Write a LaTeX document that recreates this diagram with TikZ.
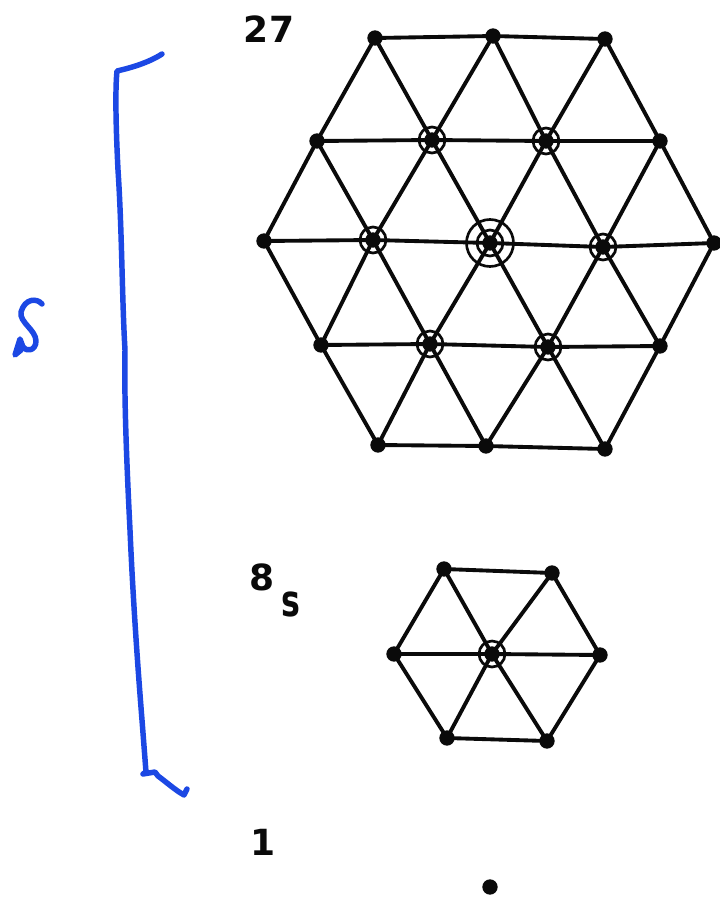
\documentclass[tikz,border=0pt]{standalone}
\usepackage{fontspec}
\usepackage{graphicx}
\setmainfont{DejaVu Sans}
\definecolor{penblue}{RGB}{28,72,228}
\definecolor{inkblack}{RGB}{10,10,10}
\tikzset{
  x=0.75pt,y=-0.75pt,
  dotnode/.style={circle,fill=inkblack,inner sep=0pt,minimum size=11.5pt},
  edge/.style={draw=inkblack,line width=2.9pt},
  ring/.style={draw=inkblack,line width=2pt,fill=none},
  pen/.style={draw=penblue,line width=4.1pt,line cap=round,line join=round},
  lab/.style={inner sep=0pt,text=inkblack,font=\fontsize{27}{27}\selectfont\bfseries}
}
\begin{document}
\begin{tikzpicture}
\useasboundingbox[fill=white] (0,0) rectangle (720,900);
% large multiplet
\foreach \n/\x/\y in {a1/375/38,a2/493/36,a3/605/39,
  b1/317/141,b2/432/140,b3/546/141,b4/660/141,
  c1/264/241,c2/373/240,c3/490/243,c4/603/247,c5/714/243,
  d1/321/345,d2/430/344,d3/548/347,d4/660/346,
  e1/378/445,e2/486/446,e3/605/449,
  f1/444/569,f2/552/573,g1/394/654,g2/492/654,g3/600/655,h1/447/738,h2/547/741,
  z/490/887}
  \node[dotnode] (\n) at (\x,\y) {};
\foreach \p/\q in {a1/a2,a2/a3,b1/b2,b2/b3,b3/b4,c1/c2,c2/c3,c3/c4,c4/c5,d1/d2,d2/d3,d3/d4,e1/e2,e2/e3,
  a1/b1,a1/b2,a2/b2,a2/b3,a3/b3,a3/b4,
  b1/c1,b1/c2,b2/c2,b2/c3,b3/c3,b3/c4,b4/c4,b4/c5,
  c1/d1,c2/d1,c2/d2,c3/d2,c3/d3,c4/d3,c4/d4,c5/d4,
  d1/e1,d2/e1,d2/e2,d3/e2,d3/e3,d4/e3,
  f1/f2,g1/g2,g2/g3,h1/h2,f1/g1,f1/g2,f2/g2,f2/g3,g1/h1,g2/h1,g2/h2,g3/h2}
  \path[edge] (\p.center) -- (\q.center);
% rings
\foreach \n in {b2,b3,c2,c4,d2,d3,g2}
  \draw[ring] (\n.center) circle[radius=13];
\draw[ring] (c3.center) circle[radius=13];
\draw[ring] (c3.center) circle[radius=23.5];
% labels
\node[lab] (t27) at (269,29) {27};
\node[lab] (t8) at (262,577) {8};
\node[lab] (ts) at (291,604) {\scalebox{0.72}[1]{\fontsize{33}{33}\selectfont s}};
\node[lab] (t1) at (263,842) {1};
% hand-drawn bracket
\draw[pen] (162,54) .. controls (148,63) and (130,68) .. (117,71)
  .. controls (115,90) and (116,130) .. (118,170)
  .. controls (122,230) and (122,300) .. (125,350)
  .. controls (124,400) and (127,470) .. (130,530)
  .. controls (133,600) and (138,670) .. (142,720)
  -- (146,772) -- (143,774) -- (155,772)
  -- (158,776) .. controls (165,781) and (175,790) .. (184,795)
  -- (187,789);
% hand-drawn S
\draw[pen] (42,304) .. controls (37,298) and (25,298) .. (21,312)
  .. controls (19,322) and (36,330) .. (36,341)
  .. controls (36,351) and (26,352) .. (23,347)
  -- (20,339) -- (15,355) -- (21,350);
\end{tikzpicture}
\end{document}
